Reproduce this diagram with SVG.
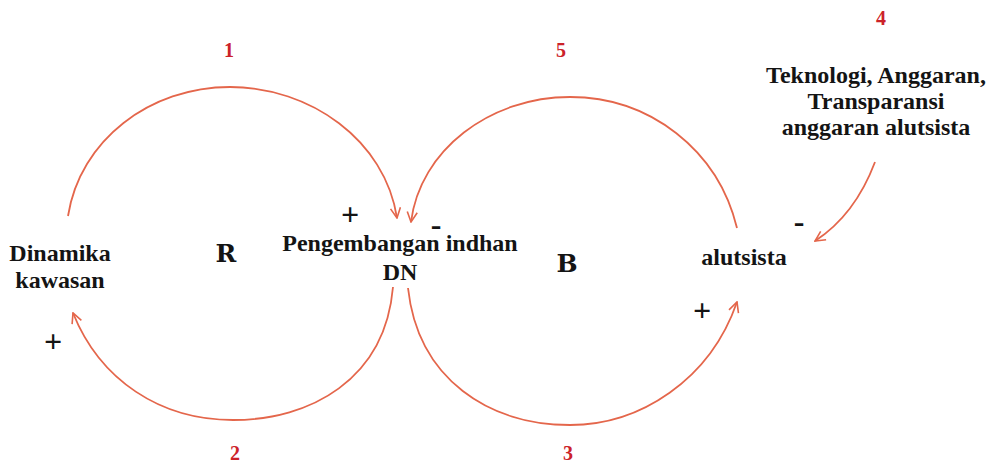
<svg xmlns="http://www.w3.org/2000/svg" width="992" height="471" viewBox="0 0 992 471">
<defs>
<style>
.lbl{font-family:"Liberation Serif","Times New Roman",serif;font-weight:bold;font-size:24px;fill:#141414;text-anchor:middle}
.num{font-family:"Liberation Serif","Times New Roman",serif;font-weight:bold;font-size:20px;fill:#cc2229;text-anchor:middle}
.loop{font-family:"DejaVu Serif",serif;font-weight:bold;font-size:25px;fill:#141414;text-anchor:middle}
.sgn{font-family:"Liberation Serif","Times New Roman",serif;font-weight:bold;font-size:32px;fill:#141414;text-anchor:middle}
.arc{fill:none;stroke:#e4664b;stroke-width:1.8}
</style>
<marker id="ah" viewBox="0 0 12 12" refX="11" refY="6" markerWidth="12" markerHeight="12" orient="auto" markerUnits="userSpaceOnUse">
<path d="M1,1 L11,6 L1,11" fill="none" stroke="#e4664b" stroke-width="1.6"/>
</marker>
</defs>
<rect width="992" height="471" fill="#ffffff"/>
<g id="connectors">
<path class="arc" d="M68,216 C80,140 150,87 230,87 C310,87 385,140 397,218" marker-end="url(#ah)"/>
<path class="arc" d="M737,228 C718,150 650,97 570,97 C490,97 420,150 411,222" marker-end="url(#ah)"/>
<path class="arc" d="M393,287 C385,380 310,420 233,420 C160,420 100,380 73,313" marker-end="url(#ah)"/>
<path class="arc" d="M408,288 C418,380 490,425 570,425 C640,425 710,380 737,302" marker-end="url(#ah)"/>
<path class="arc" d="M875,162 Q855,215 815,241" marker-end="url(#ah)"/>
</g>
<g id="node-dinamika">
<text class="lbl" x="60" y="261">Dinamika</text>
<text class="lbl" x="60" y="288">kawasan</text>
</g>
<g id="node-pengembangan">
<text class="lbl" x="400" y="251">Pengembangan indhan</text>
<text class="lbl" x="400" y="280">DN</text>
</g>
<g id="node-alutsista">
<text class="lbl" x="744" y="265">alutsista</text>
</g>
<g id="node-teknologi">
<text class="lbl" x="876" y="83">Teknologi, Anggaran,</text>
<text class="lbl" x="876" y="109">Transparansi</text>
<text class="lbl" x="876" y="135">anggaran alutsista</text>
</g>
<g id="loop-labels">
<text class="loop" x="226" y="262">R</text>
<text class="loop" x="567" y="272">B</text>
</g>
<g id="numbers">
<text class="num" x="229" y="57">1</text>
<text class="num" x="235" y="460">2</text>
<text class="num" x="568" y="460">3</text>
<text class="num" x="881" y="25">4</text>
<text class="num" x="561" y="57">5</text>
</g>
<g id="signs">
<text class="sgn" x="350" y="225">+</text>
<text class="sgn" x="436" y="235">-</text>
<text class="sgn" x="53" y="352">+</text>
<text class="sgn" x="702" y="321">+</text>
<text class="sgn" x="799" y="232">-</text>
</g>
</svg>
